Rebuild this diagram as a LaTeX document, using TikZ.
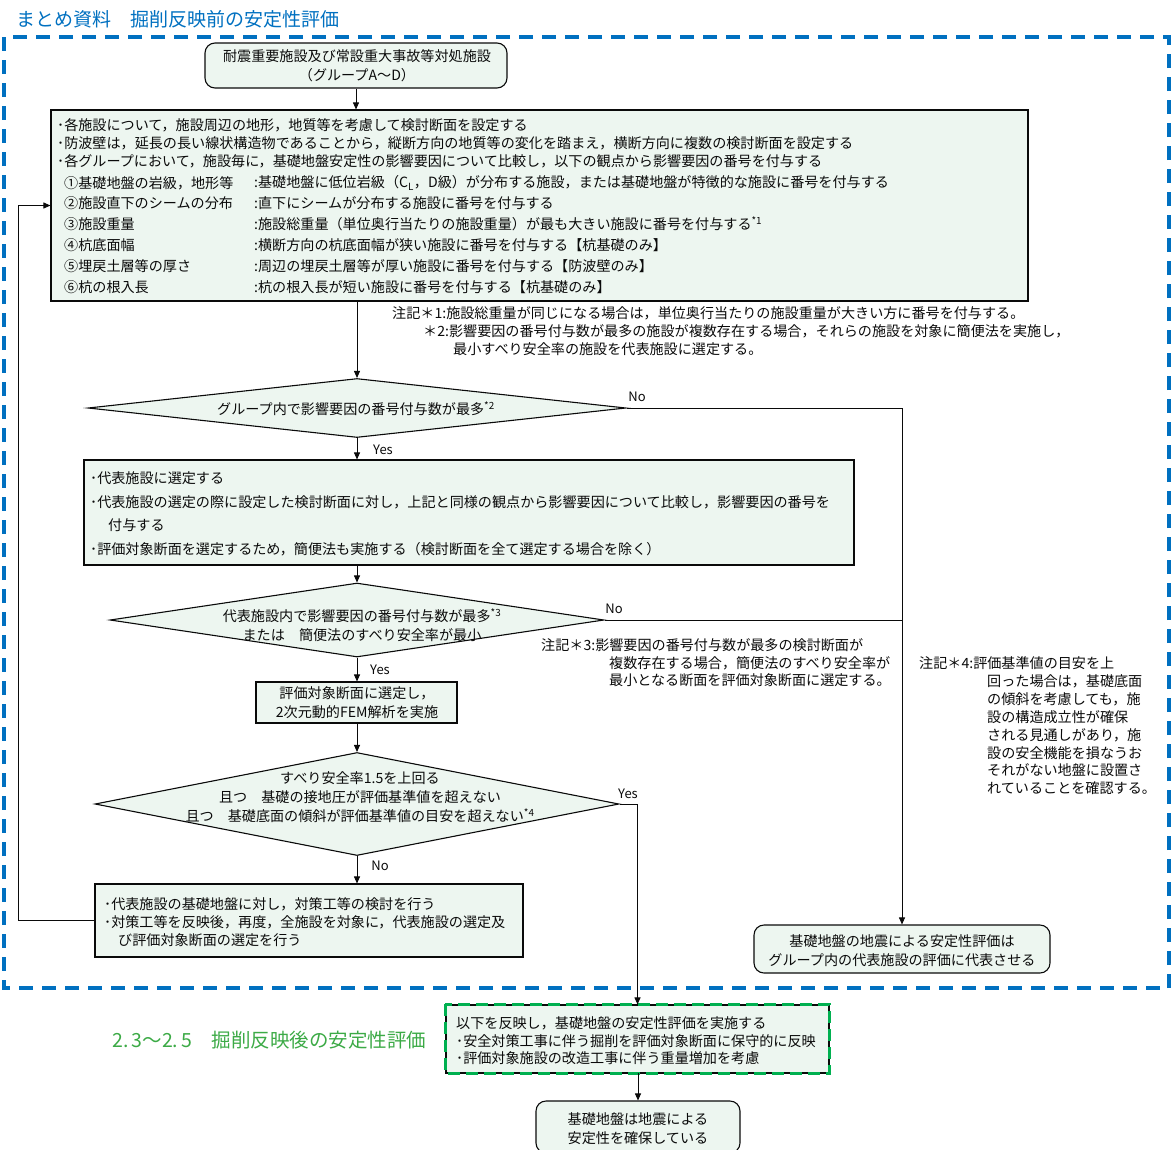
\documentclass[tikz,border=0pt]{standalone}
\usepackage{fontspec}
\setmainfont{Noto Sans CJK JP}
\usetikzlibrary{shapes.geometric,arrows.meta}

\definecolor{boxfill}{RGB}{237,246,240}
\definecolor{frameblue}{RGB}{0,112,192}
\definecolor{framegreen}{RGB}{0,176,80}
\definecolor{labelgreen}{RGB}{60,170,70}
\definecolor{ink}{RGB}{10,10,10}

\newcommand\bodyfont{\fontsize{14.1pt}{19pt}\selectfont}
\newcommand\ynfont{\fontsize{13pt}{16pt}\selectfont}
\newcommand\headfont{\fontsize{19pt}{22pt}\selectfont}
\newcommand\greenfont{\fontsize{19.5pt}{22pt}\selectfont}
\newcommand\notemark[1]{\textsuperscript{#1}}

\tikzset{
  box/.style={draw=ink, line width=1.1pt, fill=boxfill, inner sep=0pt},
  rbox/.style={box, rounded corners=10pt},
  dia/.style={draw=ink, line width=1.1pt, fill=boxfill, diamond, inner sep=0pt},
  txt/.style={font=\bodyfont, text=ink, inner sep=0pt, anchor=west},
  ctxt/.style={font=\bodyfont, text=ink, inner sep=0pt, align=center},
  yn/.style={font=\ynfont, text=ink, inner sep=0pt},
  link/.style={draw=ink, line width=0.9pt},
  arr/.style={link, -{Triangle[length=7pt,width=6pt]}},
}

\begin{document}
\begin{tikzpicture}[x=1pt,y=-1pt]
\useasboundingbox (0,0) rectangle (1172,1149);

% heading
\node[anchor=west, inner sep=0pt, text=frameblue, font=\headfont] (title) at (16,19) {まとめ資料　掘削反映前の安定性評価};

% start terminal
\node[rbox, minimum width=302pt, minimum height=45pt] (top) at (356,65.5) {};
\node[ctxt] (topt) at (357,66) {耐震重要施設及び常設重大事故等対処施設\\（グループA～D）};

% criteria box
\node[box, minimum width=977pt, minimum height=191pt] (big) at (539.5,205.5) {};
\node[txt] (l1) at (57,125) {･各施設について，施設周辺の地形，地質等を考慮して検討断面を設定する};
\node[txt] (l2) at (57,143) {･防波壁は，延長の長い線状構造物であることから，縦断方向の地質等の変化を踏まえ，横断方向に複数の検討断面を設定する};
\node[txt] (l3) at (57,161) {･各グループにおいて，施設毎に，基礎地盤安定性の影響要因について比較し，以下の観点から影響要因の番号を付与する};
\node[txt] (i1) at (64,183) {①基礎地盤の岩級，地形等};
\node[txt] (i2) at (64,203) {②施設直下のシームの分布};
\node[txt] (i3) at (64,224) {③施設重量};
\node[txt] (i4) at (64,245) {④杭底面幅};
\node[txt] (i5) at (64,266) {⑤埋戻土層等の厚さ};
\node[txt] (i6) at (64,287) {⑥杭の根入長};
\node[txt] (e1) at (254,183) {:基礎地盤に低位岩級（C\textsubscript{L}，D級）が分布する施設，または基礎地盤が特徴的な施設に番号を付与する};
\node[txt] (e2) at (254,203) {:直下にシームが分布する施設に番号を付与する};
\node[txt] (e3) at (254,224) {:施設総重量（単位奥行当たりの施設重量）が最も大きい施設に番号を付与する\notemark{*1}};
\node[txt] (e4) at (254,245) {:横断方向の杭底面幅が狭い施設に番号を付与する【杭基礎のみ】};
\node[txt] (e5) at (254,266) {:周辺の埋戻土層等が厚い施設に番号を付与する【防波壁のみ】};
\node[txt] (e6) at (254,287) {:杭の根入長が短い施設に番号を付与する【杭基礎のみ】};

% notes 1 and 2
\node[txt] (n1a) at (392,313) {注記＊1:施設総重量が同じになる場合は，単位奥行当たりの施設重量が大きい方に番号を付与する。};
\node[txt] (n1b) at (423,331) {＊2:影響要因の番号付与数が最多の施設が複数存在する場合，それらの施設を対象に簡便法を実施し，};
\node[txt] (n1c) at (453,349) {最小すべり安全率の施設を代表施設に選定する。};

% decision 1
\node[dia, minimum width=538pt, minimum height=59pt] (d1) at (357,408) {};
\node[ctxt] (d1t) at (356,409) {グループ内で影響要因の番号付与数が最多\notemark{*2}};

% representative facility box
\node[box, minimum width=770pt, minimum height=105pt] (b2) at (469,512.5) {};
\node[txt] (b2a) at (90,478) {･代表施設に選定する};
\node[txt] (b2b) at (90,502) {･代表施設の選定の際に設定した検討断面に対し，上記と同様の観点から影響要因について比較し，影響要因の番号を};
\node[txt] (b2c) at (108,525) {付与する};
\node[txt] (b2d) at (90,549) {･評価対象断面を選定するため，簡便法も実施する（検討断面を全て選定する場合を除く）};

% decision 2
\node[dia, minimum width=494pt, minimum height=74pt] (d2) at (357,620) {};
\node[ctxt] (d2t) at (362,625) {代表施設内で影響要因の番号付与数が最多\notemark{*3}\\または　簡便法のすべり安全率が最小};

% note 3
\node[txt] (n3a) at (541,645) {注記＊3:影響要因の番号付与数が最多の検討断面が};
\node[txt] (n3b) at (609,663) {複数存在する場合，簡便法のすべり安全率が};
\node[txt] (n3c) at (609,680) {最小となる断面を評価対象断面に選定する。};

% note 4
\node[txt] (n4a) at (919,663) {注記＊4:評価基準値の目安を上};
\node[txt] (n4b) at (987,681) {回った場合は，基礎底面};
\node[txt] (n4c) at (987,699) {の傾斜を考慮しても，施};
\node[txt] (n4d) at (987,717) {設の構造成立性が確保};
\node[txt] (n4e) at (987,735) {される見通しがあり，施};
\node[txt] (n4f) at (987,753) {設の安全機能を損なうお};
\node[txt] (n4g) at (987,770) {それがない地盤に設置さ};
\node[txt] (n4h) at (987,788) {れていることを確認する。};

% FEM box
\node[box, minimum width=201pt, minimum height=41pt] (b3) at (356.5,702.5) {};
\node[ctxt] (b3t) at (357,703) {評価対象断面に選定し，\\2次元動的FEM解析を実施};

% decision 3
\node[dia, minimum width=524pt, minimum height=103pt] (d3) at (357,804) {};
\node[ctxt] (d3t) at (360,797) {すべり安全率1.5を上回る\\且つ　基礎の接地圧が評価基準値を超えない\\且つ　基礎底面の傾斜が評価基準値の目安を超えない\notemark{*4}};

% countermeasure box
\node[box, minimum width=428pt, minimum height=73pt] (b4) at (309,920.5) {};
\node[txt] (b4a) at (104,904) {･代表施設の基礎地盤に対し，対策工等の検討を行う};
\node[txt] (b4b) at (104,922) {･対策工等を反映後，再度，全施設を対象に，代表施設の選定及};
\node[txt] (b4c) at (118,940) {び評価対象断面の選定を行う};

% group result terminal
\node[rbox, minimum width=296pt, minimum height=48pt] (b5) at (902,949) {};
\node[ctxt] (b5t) at (902,951) {基礎地盤の地震による安定性評価は\\グループ内の代表施設の評価に代表させる};

% post-excavation evaluation
\node[anchor=west, inner sep=0pt, text=labelgreen, font=\greenfont] (glabel) at (112,1040) {2.\,3～2.\,5　掘削反映後の安定性評価};
\node[box, minimum width=383pt, minimum height=68pt] (g) at (637.5,1039) {};
\draw[framegreen, line width=3pt, dash pattern=on 12pt off 6pt] (g.north west) rectangle (g.south east);
\node[txt] (ga) at (456,1023) {以下を反映し，基礎地盤の安定性評価を実施する};
\node[txt] (gb) at (456,1041) {･安全対策工事に伴う掘削を評価対象断面に保守的に反映};
\node[txt] (gc) at (456,1058) {･評価対象施設の改造工事に伴う重量増加を考慮};

% end terminal
\node[rbox, minimum width=204pt, minimum height=52pt] (end) at (638,1127) {};
\node[ctxt] (endt) at (638,1129) {基礎地盤は地震による\\安定性を確保している};

% connectors
\coordinate (loopx) at (18,0);
\draw[arr] (top.south) -- (top.south |- big.north);
\draw[arr] (d1.north |- big.south) -- (d1.north);
\draw[arr] (d1.south) -- (d1.south |- b2.north);
\draw[arr] (d1.east) -- (d1.east -| b5.north) -- (b5.north);
\draw[link] (d2.east) -- (d2.east -| b5.north);
\draw[arr] (d2.north |- b2.south) -- (d2.north);
\draw[arr] (d2.south) -- (b3.north -| d2.south);
\draw[arr] (b3.south -| d3.north) -- (d3.north);
\draw[arr] (d3.south) -- (d3.south |- b4.north);
\draw[arr] (d3.east) -- (d3.east -| g.north) -- (g.north);
\draw[arr] (b4.west) -- (b4.west -| loopx) |- (big.west);
\draw[arr] (g.south) -- (g.south -| end.north) -- (end.north);

% branch labels
\node[yn] (no1) at (637,397) {No};
\node[yn] (yes1) at (383,450) {Yes};
\node[yn] (no2) at (614,609) {No};
\node[yn] (yes2) at (380,670) {Yes};
\node[yn] (yes3) at (628,794) {Yes};
\node[yn] (no3) at (380,866) {No};

% outer frame of the pre-excavation stage
\draw[frameblue, line width=3.5pt, dash pattern=on 14pt off 9pt] (4,37) rectangle (1169,988);
\end{tikzpicture}
\end{document}
